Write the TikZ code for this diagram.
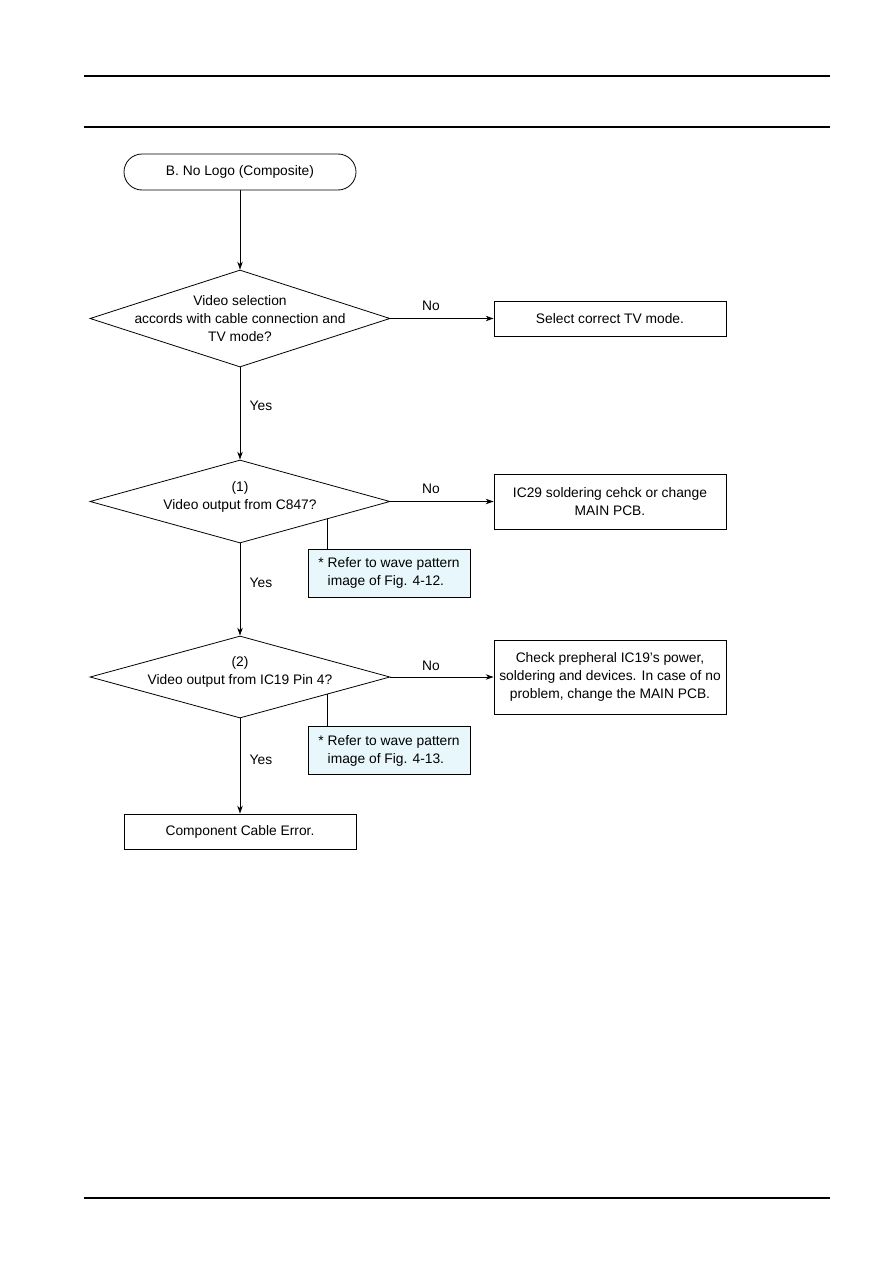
\documentclass[tikz,border=0pt]{standalone}
\usepackage{fontspec}
\setmainfont{Liberation Sans}
\usetikzlibrary{shapes.geometric,arrows.meta,calc}
\definecolor{notebg}{RGB}{231,247,252}
\begin{document}
\begin{tikzpicture}[x=1pt,y=-1pt,
  font=\fontsize{13.8}{18}\selectfont,
  box/.style={draw, line width=0.8pt, minimum width=232pt, inner sep=0pt, align=center},
  dia/.style={diamond, draw, line width=0.8pt, minimum width=300pt, inner sep=0pt},
  dtext/.style={align=center, inner sep=0pt},
  note/.style={draw, fill=notebg, line width=0.8pt, minimum width=162pt, minimum height=48pt, inner sep=0pt, align=left},
  arr/.style={-{Stealth[length=8pt,width=5.5pt]}, line width=0.8pt},
  lab/.style={inner sep=0pt},
  rule/.style={line width=1.3pt}]
\useasboundingbox (0,0) rectangle (893,1263);
% page rules
\draw[rule] (84,76) -- (830,76);
\draw[rule] (84,127) -- (830,127);
\draw[rule] (84,1198) -- (830,1198);
% nodes
\node[box, rounded corners=18pt, minimum height=36pt] (start) at (240,172) {B. No Logo (Composite)};
\node[dia, minimum height=97pt] (d1) at (240,318.5) {};
\node[dtext] (t1) at (240,319) {Video selection\\accords with cable connection and\\TV mode?};
\node[box, minimum height=35pt] (b1) at (610,318.5) {Select correct TV mode.};
\node[dia, minimum height=83pt] (d2) at (240,501.5) {};
\node[dtext] (t2) at (240,497) {(1)\\Video output from C847?};
\node[box, minimum height=55pt] (b2) at (610,501.5) {IC29 soldering cehck or change\\MAIN PCB.};
\node[note] (n1) at (389,573) {\begin{tabular}{@{}l@{\hspace{4pt}}l@{}}* & Refer to wave pattern\\ & image of Fig. 4-12.\end{tabular}};
\node[dia, minimum height=82pt] (d3) at (240,677) {};
\node[dtext] (t3) at (240,672) {(2)\\Video output from IC19 Pin 4?};
\node[box, minimum height=74pt] (b3) at (610,677) {Check prepheral IC19's power,\\soldering and devices. In case of no\\problem, change the MAIN PCB.};
\node[note] (n2) at (389,750.5) {\begin{tabular}{@{}l@{\hspace{4pt}}l@{}}* & Refer to wave pattern\\ & image of Fig. 4-13.\end{tabular}};
\node[box, minimum height=35pt] (end) at (240,831.5) {Component Cable Error.};
% labels
\node[lab] (no1) at (431,306) {No};
\node[lab] (no2) at (431,489) {No};
\node[lab] (no3) at (431,666) {No};
\node[lab] (yes1) at (261,406) {Yes};
\node[lab] (yes2) at (261,583) {Yes};
\node[lab] (yes3) at (261,760) {Yes};
% connectors
\draw[arr] (start) -- (d1);
\draw[arr] (d1) -- (b1);
\draw[arr] (d1) -- (d2);
\draw[arr] (d2) -- (b2);
\draw[arr] (d2) -- (d3);
\draw[arr] (d3) -- (b3);
\draw[arr] (d3) -- (end);
\coordinate (c1) at ($(d2.east)!0.42!(d2.south)$);
\coordinate (c2) at ($(d3.east)!0.42!(d3.south)$);
\draw[line width=0.8pt] (c1) -- (c1 |- n1.north);
\draw[line width=0.8pt] (c2) -- (c2 |- n2.north);
\end{tikzpicture}
\end{document}
